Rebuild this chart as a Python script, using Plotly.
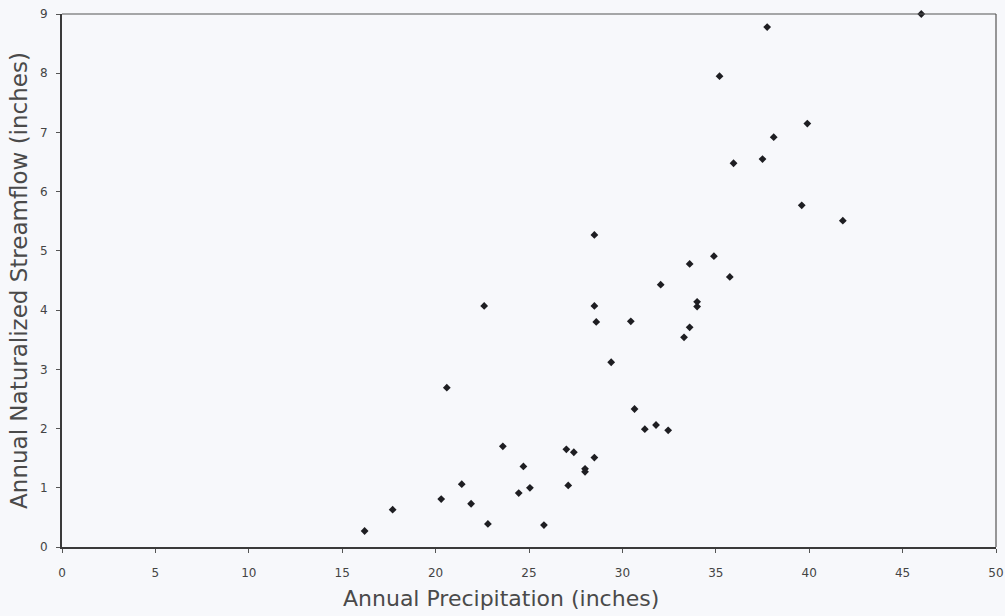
import plotly.graph_objects as go

precip = [16.2, 17.7, 20.3, 20.6, 21.4, 21.9, 22.6, 22.8, 23.6, 24.45, 24.7, 25.05, 25.8,
          27.0, 27.1, 27.4, 28.0, 28.0, 28.5, 28.5, 28.6, 28.5, 29.4, 30.45, 30.65, 31.2,
          31.8, 32.05, 32.45, 33.3, 33.6, 33.6, 34.0, 34.0, 34.9, 35.2, 35.75, 35.95, 37.5,
          37.75, 38.1, 39.6, 39.9, 41.8, 46.0]
streamflow = [0.27, 0.63, 0.81, 2.69, 1.06, 0.73, 4.07, 0.39, 1.70, 0.91, 1.36, 1.00, 0.37,
              1.65, 1.04, 1.60, 1.32, 1.27, 1.51, 4.07, 3.80, 5.27, 3.12, 3.81, 2.33, 1.99,
              2.06, 4.43, 1.97, 3.54, 3.71, 4.78, 4.06, 4.14, 4.91, 7.95, 4.56, 6.48, 6.55,
              8.78, 6.92, 5.77, 7.15, 5.51, 9.0]

x_ticks = [0, 5, 10, 15, 20, 25, 30, 35, 40, 45, 50]
y_ticks = [0, 1, 2, 3, 4, 5, 6, 7, 8, 9]

fig = go.Figure()
fig.add_trace(go.Scatter(
    x=precip, y=streamflow, mode="markers",
    marker=dict(symbol="diamond", size=6, color="#1e1e22"),
    cliponaxis=False, showlegend=False,
))

bg = "#f7f8fb"
fig.update_layout(
    width=1005, height=616,
    paper_bgcolor=bg, plot_bgcolor=bg,
    margin=dict(l=62, r=9, t=14, b=69, autoexpand=False),
    font=dict(family="DejaVu Sans, Verdana, sans-serif", color="#444"),
)
fig.update_xaxes(
    range=[0, 50], tickvals=x_ticks, showgrid=False, zeroline=False, automargin=False,
    showline=True, linecolor="#3a3a3a", linewidth=2, mirror=False,
    ticks="outside", ticklen=4, tickcolor="#555", tickwidth=1, ticklabelstandoff=10,
    tickfont=dict(family="DejaVu Sans", size=12, color="#444"),
)
fig.update_yaxes(
    range=[0, 9], tickvals=y_ticks, showgrid=False, zeroline=False, automargin=False,
    showline=True, linecolor="#3a3a3a", linewidth=2, mirror=False,
    ticks="outside", ticklen=4, tickcolor="#555", tickwidth=1, ticklabelstandoff=6,
    tickfont=dict(family="DejaVu Sans", size=12, color="#444"),
    title=dict(text="Annual Naturalized Streamflow (inches)", standoff=6,
               font=dict(family="DejaVu Sans", size=23, color="#4a4a4a")),
)
# x-axis title (slightly left of centre, as in the original)
fig.add_annotation(text="Annual Precipitation (inches)", xref="paper", yref="paper",
                   x=0.47, y=-0.097, xanchor="center", yanchor="middle", showarrow=False,
                   font=dict(family="DejaVu Sans", size=22, color="#4a4a4a"))
# thin top/right frame
fig.add_shape(type="line", xref="paper", yref="paper", x0=0, x1=1, y0=1, y1=1,
              line=dict(color="#555", width=1.2))
fig.add_shape(type="line", xref="paper", yref="paper", x0=1, x1=1, y0=0, y1=1,
              line=dict(color="#555", width=1.2))

fig.write_html("out.html")
